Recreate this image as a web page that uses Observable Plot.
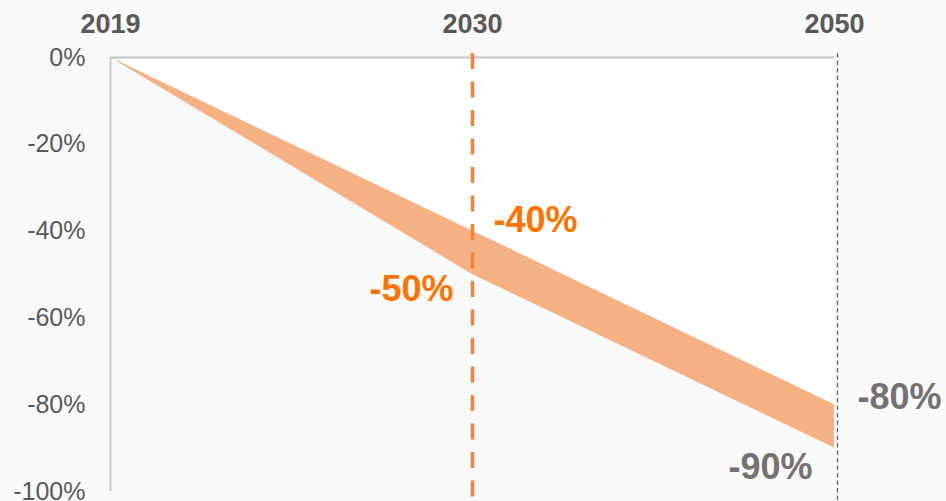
<!DOCTYPE html>
<html>
<head>
<meta charset="utf-8">
<script src="https://cdn.jsdelivr.net/npm/d3@7"></script>
<script src="https://cdn.jsdelivr.net/npm/@observablehq/plot@0.6"></script>
<style>
  html, body { margin: 0; padding: 0; background: #f9f9f9; }
  #chart svg { display: block; }
</style>
</head>
<body>
<div id="chart"></div>
<script>
const years = ["2019", "2030", "2050"];
const upper = [0, -40, -80];
const lower = [0, -50, -90];
const yTicks = [0, -20, -40, -60, -80, -100];
const labelYears = ["2030", "2050"];

const band = years.map((y, i) => ({year: y, upper: upper[i], lower: lower[i]}));
const labels = band.filter(d => labelYears.includes(d.year));
const fmt = v => `${v}%`;
const font = "Liberation Sans, Arial, sans-serif";

const chart = Plot.plot({
  width: 946,
  height: 501,
  marginLeft: 110,
  marginRight: 112,
  marginTop: 57,
  marginBottom: 10,
  style: {background: "#f9f9f9", fontFamily: font},
  x: {type: "point", domain: years, padding: 0},
  y: {domain: [-100, 0]},
  marks: [
    Plot.areaY(band, {x: "year", y1: 0, y2: "upper", fill: "#ffffff"}),
    Plot.areaY(band, {x: "year", y1: "upper", y2: "lower", fill: "#f4b183"}),
    Plot.ruleY([0], {stroke: "#c4c4c4", strokeWidth: 2}),
    Plot.ruleX(["2019"], {stroke: "#c8c8c8", strokeWidth: 2}),
    Plot.ruleX(["2030"], {stroke: "#f0843a", strokeWidth: 3.5, strokeDasharray: "16,12.5", insetTop: -4, insetBottom: -10}),
    Plot.ruleX(["2050"], {stroke: "#666666", strokeWidth: 1.3, strokeDasharray: "4.5,3", dx: 3, insetTop: -4, insetBottom: -10}),
    Plot.axisX({anchor: "top", tickSize: 0, tickPadding: 25, fontSize: 27, fontWeight: "bold", fill: "#595959", label: null}),
    Plot.axisY({ticks: yTicks, tickFormat: fmt, tickSize: 0, tickPadding: 25, fontSize: 25, fill: "#595959", label: null}),
    Plot.text(labels.filter(d => d.year === "2030"), {x: "year", y: "upper", text: d => fmt(d.upper), textAnchor: "start", dx: 21, dy: -11, fontSize: 36, fontWeight: "bold", fill: "#ff7400"}),
    Plot.text(labels.filter(d => d.year === "2030"), {x: "year", y: "lower", text: d => fmt(d.lower), textAnchor: "end", dx: -19, dy: 15, fontSize: 36, fontWeight: "bold", fill: "#ff7400"}),
    Plot.text(labels.filter(d => d.year === "2050"), {x: "year", y: "upper", text: d => fmt(d.upper), textAnchor: "start", dx: 23, dy: -7, fontSize: 36, fontWeight: "bold", fill: "#767171"}),
    Plot.text(labels.filter(d => d.year === "2050"), {x: "year", y: "lower", text: d => fmt(d.lower), textAnchor: "end", dx: -22, dy: 19, fontSize: 36, fontWeight: "bold", fill: "#767171"})
  ]
});
document.getElementById("chart").appendChild(chart);
</script>
</body>
</html>
